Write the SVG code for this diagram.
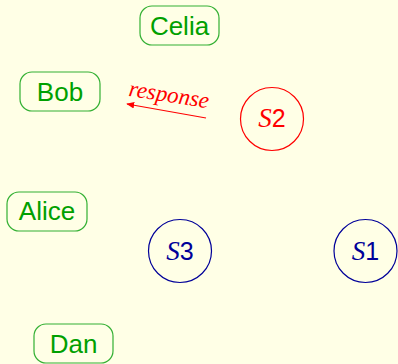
<svg xmlns="http://www.w3.org/2000/svg" width="398" height="364" viewBox="0 0 398 364">
<defs>
<style>
.box{fill:none;stroke:#33b033;stroke-width:1.2}
.name{font-family:"Liberation Sans",Arial,sans-serif;font-size:26px;fill:#00a000;text-anchor:middle}
.red{fill:none;stroke:#ff0000;stroke-width:1.2}
.blue{fill:none;stroke:#000099;stroke-width:1.2}
.lab{font-family:"Liberation Sans",Arial,sans-serif;font-size:25px;text-anchor:middle}
.it{font-family:"Liberation Serif","Times New Roman",serif;font-style:italic;font-size:27px}
</style>
<marker id="ah" viewBox="0 0 10 10" refX="9" refY="5" markerWidth="8" markerHeight="8" markerUnits="userSpaceOnUse" orient="auto">
<path d="M0,1 L10,5 L0,9 Z" fill="#ff0000"/>
</marker>
</defs>
<rect width="398" height="364" fill="#ffffe6"/>
<g id="celia"><rect class="box" x="140" y="6" width="79" height="39" rx="12"/><text class="name" x="179.5" y="35">Celia</text></g>
<g id="bob"><rect class="box" x="20" y="72" width="80" height="39" rx="12"/><text class="name" x="60" y="101">Bob</text></g>
<g id="alice"><rect class="box" x="7" y="192" width="80" height="39" rx="12"/><text class="name" x="47" y="220">Alice</text></g>
<g id="dan"><rect class="box" x="34" y="324" width="79" height="39" rx="12"/><text class="name" x="73.5" y="353">Dan</text></g>
<g id="s2"><circle class="red" cx="272" cy="119" r="31.5"/><text class="lab" x="272" y="127" fill="#ff0000"><tspan class="it">S</tspan>2</text></g>
<g id="s3"><circle class="blue" cx="180" cy="251" r="31.5"/><text class="lab" x="180" y="260" fill="#000099"><tspan class="it">S</tspan>3</text></g>
<g id="s1"><circle class="blue" cx="365.5" cy="251" r="31.5"/><text class="lab" x="365.5" y="260" fill="#000099"><tspan class="it">S</tspan>1</text></g>
<g id="connectors">
<line class="red" x1="206" y1="118" x2="127" y2="104" marker-end="url(#ah)"/>
<text x="168" y="102" transform="rotate(9 168 102)" font-family="Liberation Serif,'Times New Roman',serif" font-style="italic" font-size="23" fill="#ff0000" text-anchor="middle">response</text>
</g>
</svg>
